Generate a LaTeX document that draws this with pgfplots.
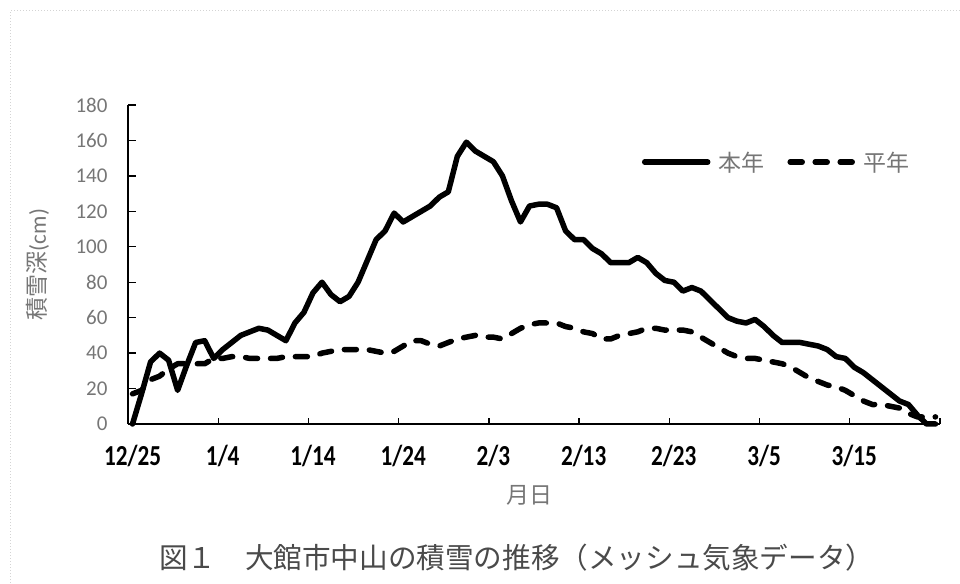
\documentclass[border=0pt]{standalone}
\usepackage{fontspec}
\setmainfont{Carlito}
\newfontfamily\cjk{Noto Sans CJK JP}
\usepackage{graphicx}
\usepackage{pgfplots}
\pgfplotsset{compat=1.18}
\usepackage{pgfplotstable}
\definecolor{txt}{HTML}{767676}
\definecolor{ttl}{HTML}{4A4A4A}
\definecolor{framec}{HTML}{D4D4D4}
\newcommand\sx[1]{\scalebox{0.8}[1]{#1}}

% 本年 (this year), day index 0 = 12/25
\pgfplotstableread{
d v
0 0
1 17
2 35
3 40
4 36
5 19
6 33
7 46
8 47
9 37
10 42
11 46
12 50
13 52
14 54
15 53
16 50
17 47
18 57
19 63
20 74
21 80
22 73
23 69
24 72
25 80
26 92
27 104
28 109
29 119
30 114
31 117
32 120
33 123
34 128
35 131
36 151
37 159
38 154
39 151
40 148
41 140
42 126
43 114
44 123
45 124
46 124
47 122
48 109
49 104
50 104
51 99
52 96
53 91
54 91
55 91
56 94
57 91
58 85
59 81
60 80
61 75
62 77
63 75
64 70
65 65
66 60
67 58
68 57
69 59
70 55
71 50
72 46
73 46
74 46
75 45
76 44
77 42
78 38
79 37
80 32
81 29
82 25
83 21
84 17
85 13
86 11
87 5
88 0
89 0
}\honnen

% 平年 (normal year)
\pgfplotstableread{
d v
0 17
1 19
2 25
3 27
4 31
5 34
6 34
7 34
8 34
9 37
10 37
11 38
12 38
13 37
14 37
15 37
16 37
17 38
18 38
19 38
20 38
21 40
22 41
23 42
24 42
25 42
26 42
27 41
28 40
29 41
30 44
31 47
32 47
33 45
34 44
35 46
36 48
37 49
38 50
39 49
40 49
41 48
42 51
43 54
44 56
45 57
46 57
47 57
48 55
49 54
50 52
51 51
52 48
53 48
54 50
55 51
56 52
57 54
58 54
59 53
60 53
61 53
62 52
63 49
64 46
65 43
66 40
67 38
68 37
69 37
70 36
71 35
72 34
73 32
74 29
75 26
76 24
77 22
78 21
79 19
80 16
81 13
82 11
83 11
84 10
85 9
86 6
87 4
88 4
89 4
}\heinen

\begin{document}
\begin{tikzpicture}
\path[use as bounding box] (0pt,0pt) rectangle (960pt,583pt);
\draw[framec, dotted, line width=1pt] (10pt,0pt) -- (10pt,572pt) -- (960pt,572pt);
\begin{axis}[
  at={(128pt,159pt)}, anchor=south west,
  scale only axis, width=812pt, height=319pt,
  xmin=-0.5, xmax=89.5, ymin=0, ymax=180,
  axis x line*=bottom, axis y line*=left,
  axis line style={black, line width=1.3pt},
  tick align=inside,
  xtick={0,10,...,80},
  xticklabels={\sx{12/25},\sx{1/4},\sx{1/14},\sx{1/24},\sx{2/3},\sx{2/13},\sx{2/23},\sx{3/5},\sx{3/15}},
  major x tick style={draw=none},
  minor xtick={9.5,19.5,29.5,39.5,49.5,59.5,69.5,79.5,89.5},
  minor x tick style={black, line width=1.3pt},
  minor tick length=6pt,
  ytick={0,20,...,180},
  major tick length=8pt,
  y tick style={black, line width=1.3pt},
  /pgf/number format/assume math mode=true,
  yticklabel style={font=\fontsize{21}{21}\selectfont, text=txt, xshift=-17pt},
  xticklabel style={font=\fontsize{29}{29}\selectfont\bfseries, text=black, anchor=base, yshift=-42pt},
  xlabel={{\cjk 月日}},
  ylabel={{\cjk 積雪深}(cm)},
  every axis x label/.style={at={(rel axis cs:0.495,-0.2226)}, anchor=center, text=txt, font=\fontsize{23}{23}\selectfont},
  every axis y label/.style={at={(rel axis cs:-0.111,0.5)}, anchor=center, rotate=90, text=txt, font=\fontsize{23}{23}\selectfont},
  legend columns=2,
  legend image code/.code={\draw[#1] (0pt,0pt) -- (63pt,0pt);},
  legend style={at={(0.629,0.821)}, anchor=west, draw=none, fill=none,
    font=\cjk\fontsize{23}{23}\selectfont, text=txt,
    nodes={inner sep=0pt},
    /tikz/every odd column/.append style={column sep=8pt},
    /tikz/every even column/.append style={column sep=23pt}},
  clip=false,
]
\addplot[black, line width=5.5pt, line join=round, line cap=round] table[x=d, y=v] {\honnen};
\addlegendentry{本年}
\addplot[black, line width=5.5pt, line join=round, line cap=round, dash pattern=on 12pt off 13pt] table[x=d, y=v] {\heinen};
\addlegendentry{平年}
\end{axis}
\node[anchor=west, inner sep=0pt, text=ttl, font=\cjk\fontsize{28.6}{28.6}\selectfont] at (159pt,25pt) {図１　大館市中山の積雪の推移（メッシュ気象データ）};
\end{tikzpicture}
\end{document}
